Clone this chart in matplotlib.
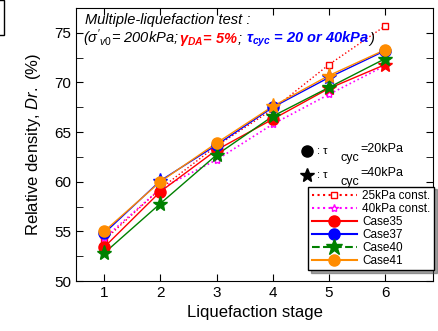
import matplotlib.pyplot as plt
from matplotlib.lines import Line2D
from matplotlib.ticker import MultipleLocator
from matplotlib.offsetbox import TextArea, HPacker, AnchoredOffsetbox

plt.rcParams['font.family'] = ['Liberation Sans', 'DejaVu Sans']
plt.rcParams['mathtext.fontset'] = 'custom'
plt.rcParams['mathtext.rm'] = 'Liberation Sans'
plt.rcParams['mathtext.it'] = 'Liberation Sans:italic'
plt.rcParams['mathtext.bf'] = 'Liberation Sans:bold:italic'

stages = [1, 2, 3, 4, 5, 6]

const25 = [54.1, 59.3, 63.6, 67.3, 71.8, 75.7]
const40 = [54.3, 59.3, 62.2, 65.8, 68.8, 71.7]
case35 = [53.4, 59.0, 63.2, 66.3, 69.4, 71.8]
case37 = [54.8, 60.1, 63.7, 67.5, 70.5, 73.2]
case40 = [52.8, 57.8, 62.7, 66.6, 69.5, 72.4]
case41 = [55.0, 60.0, 63.9, 67.6, 70.7, 73.3]

# marker per stage: 'o' = tau_cyc 20kPa, '*' = tau_cyc 40kPa
mk35 = ['o', 'o', 'o', 'o', '*', '*']
mk37 = ['o', '*', 'o', 'o', '*', 'o']
mk40 = ['*', '*', '*', '*', '*', '*']
mk41 = ['o', 'o', 'o', '*', '*', 'o']

fig = plt.figure(figsize=(4.39, 3.31), dpi=100)
ax = fig.add_axes([76 / 439, 50 / 331, (433 - 76) / 439, (281 - 8) / 331])

ax.plot(stages, const25, ':', color='red', lw=1, marker='s', ms=5, mfc='white',
        mec='red', mew=1, zorder=2)
ax.plot(stages, const40, ':', color='magenta', lw=1.2, marker='*', ms=6,
        mfc='white', mec='magenta', mew=1, zorder=2)

cases = [(case35, mk35, 'red'), (case37, mk37, 'blue'),
         (case40, mk40, 'green'), (case41, mk41, 'darkorange')]
for vals, mks, col in cases:
    ax.plot(stages, vals, '-', color=col, lw=1, zorder=3)
    for x, y, m in zip(stages, vals, mks):
        ax.plot(x, y, marker=m, color=col, ms=8 if m == 'o' else 11,
                mec=col, zorder=4)

ax.set_xlim(0.5, 6.85)
ax.set_ylim(50, 77.5)
ax.set_xticks(stages)
ax.yaxis.set_major_locator(MultipleLocator(5))
ax.yaxis.set_minor_locator(MultipleLocator(2.5))
ax.tick_params(which='both', direction='in', top=True, right=True, labelsize=11)
ax.tick_params(which='both', length=5)
ax.set_xlabel('Liquefaction stage', fontsize=12)
ax.set_ylabel('Relative density, $\\it{Dr.}$ (%)', fontsize=12, labelpad=8)

# title lines
fs = 10.5
ax.text(0.025, 0.955, 'Multiple-liquefaction test :', transform=ax.transAxes,
        fontsize=fs, style='italic', va='center')


def part(s, color='black', weight='normal'):
    return TextArea(s, textprops=dict(fontsize=fs, style='italic',
                                      color=color, weight=weight))


line2 = HPacker(children=[
    part("($\\it{\\sigma}'_{\\it{v0}}$= 200kPa; "),
    part('$\\mathbf{\\gamma}_{\\mathbf{DA}}$= 5%', 'red', 'bold'),
    part('; '),
    part('$\\mathbf{\\tau}_{\\mathbf{cyc}}$ = 20 or 40kPa', 'blue', 'bold'),
    part(')'),
], align='baseline', pad=0, sep=0)
ax.add_artist(AnchoredOffsetbox(loc='upper left', child=line2, pad=0,
                                borderpad=0, frameon=False,
                                bbox_to_anchor=(0.02, 0.93),
                                bbox_transform=ax.transAxes))

# marker key
key_y = [63.1, 60.7]
key_m = ['o', '*']
key_t = ['20kPa', '40kPa']
for ky, km, kt in zip(key_y, key_m, key_t):
    ax.plot(4.61, ky, km, color='black', ms=8 if km == 'o' else 10)
    ax.text(4.78, ky, ': \u03c4', fontsize=8, va='center')
    ax.text(5.2, ky - 0.75, 'cyc', fontsize=9, va='center')
    ax.text(5.56, ky + 0.15, '=' + kt, fontsize=9, va='center')

handles = [
    Line2D([], [], ls=':', color='red', marker='s', mfc='white', ms=5),
    Line2D([], [], ls=':', color='magenta', marker='*', mfc='white', ms=6),
    Line2D([], [], ls='-', color='red', marker='o', ms=8),
    Line2D([], [], ls='-', color='blue', marker='o', ms=8),
    Line2D([], [], ls='--', color='green', marker='*', ms=12),
    Line2D([], [], ls='-', color='darkorange', marker='o', ms=8),
]
labels = ['25kPa const.', '40kPa const.', 'Case35', 'Case37', 'Case40', 'Case41']
leg = ax.legend(handles, labels, loc='lower right', bbox_to_anchor=(1.01, 0.03),
                fontsize=8.5, frameon=True, fancybox=False, shadow=True,
                edgecolor='black', handlelength=3.8, labelspacing=0.08,
                borderpad=0.3, handletextpad=0.5, borderaxespad=0.2)
leg.get_frame().set_linewidth(1)

# partial box at the top-left corner
fig.patches.append(plt.Rectangle((-0.01, 1 - 35 / 331), 8 / 439, 35 / 331,
                                 transform=fig.transFigure, fill=False,
                                 edgecolor='black', lw=1))

fig.savefig('out.png', dpi=100)
